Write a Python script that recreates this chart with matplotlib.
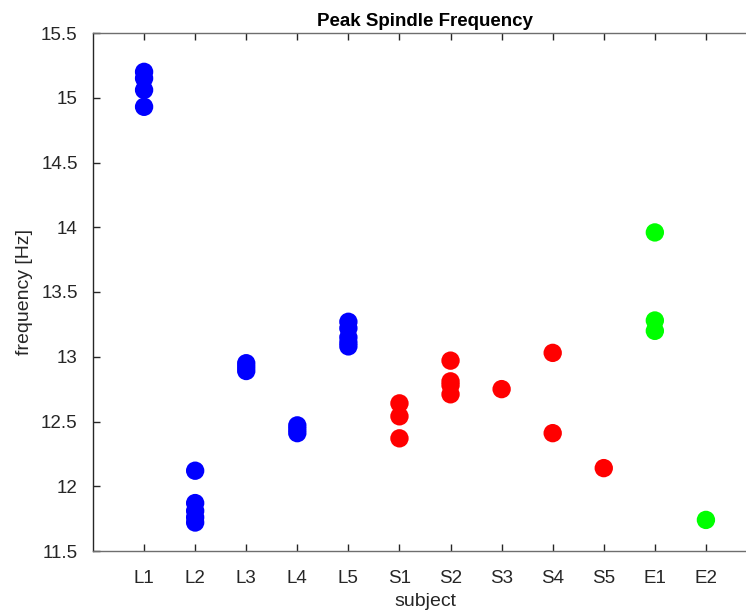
import matplotlib
matplotlib.use("Agg")
import matplotlib.pyplot as plt
import numpy as np

plt.rcParams['font.family'] = ['Liberation Sans', 'DejaVu Sans']

subjects = ['L1', 'L2', 'L3', 'L4', 'L5', 'S1', 'S2', 'S3', 'S4', 'S5', 'E1', 'E2']
values = {
    'L1': [15.20, 15.15, 15.06, 14.93],
    'L2': [12.12, 11.87, 11.81, 11.76, 11.72],
    'L3': [12.95, 12.92, 12.89],
    'L4': [12.47, 12.44, 12.41],
    'L5': [13.27, 13.22, 13.15, 13.11, 13.08],
    'S1': [12.64, 12.54, 12.37],
    'S2': [12.97, 12.81, 12.78, 12.71],
    'S3': [12.75],
    'S4': [13.03, 12.41],
    'S5': [12.14],
    'E1': [13.96, 13.28, 13.20],
    'E2': [11.74],
}
group_colors = {'L': '#0000ff', 'S': '#ff0000', 'E': '#00ff00'}
yticks = [11.5, 12, 12.5, 13, 13.5, 14, 14.5, 15, 15.5]
ytick_labels = ['11.5', '12', '12.5', '13', '13.5', '14', '14.5', '15', '15.5']

W, H = 746, 613
fig = plt.figure(figsize=(W / 100, H / 100), dpi=100)
left, right, top, bottom = 93, 757, 33, 551
ax = fig.add_axes([left / W, (H - bottom) / H, (right - left) / W, (bottom - top) / H])

for i, s in enumerate(subjects, start=1):
    v = values[s]
    ax.scatter([i] * len(v), v, s=175, color=group_colors[s[0]], edgecolors='none', zorder=3)

ax.set_xlim(0, 13)
ax.set_ylim(11.5, 15.5)
ax.set_xticks(range(1, len(subjects) + 1))
ax.set_xticklabels(subjects)
ax.set_yticks(yticks)
ax.set_yticklabels(ytick_labels)
ax.tick_params(direction='in', top=True, right=False, length=5, width=1, labelsize=13.5,
               colors='#262626')
ax.tick_params(axis='y', pad=11)
ax.tick_params(axis='x', pad=14)
for sp in ['left', 'bottom', 'top']:
    ax.spines[sp].set_color('#6e6e6e')
    ax.spines[sp].set_linewidth(1)
ax.spines['left'].set_color('#262626')
ax.spines['right'].set_visible(False)

ax.set_title('Peak Spindle Frequency', fontsize=13.5, fontweight='bold', pad=5)
ax.set_xlabel('subject', fontsize=14, color='#262626', labelpad=4)
ax.set_ylabel('frequency [Hz]', fontsize=14, color='#262626', labelpad=6)

fig.savefig('out.png', dpi=100)
